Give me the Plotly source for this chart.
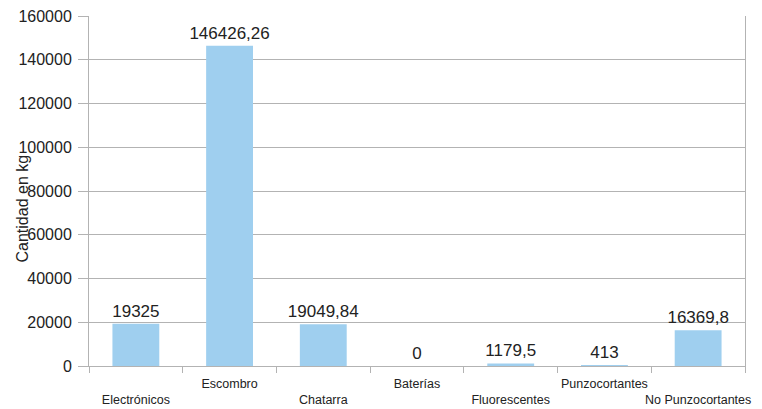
import plotly.graph_objects as go

categories = ["Electrónicos", "Escombro", "Chatarra", "Baterías", "Fluorescentes", "Punzocortantes", "No Punzocortantes"]
values = [19325, 146426.26, 19049.84, 0, 1179.5, 413, 16369.8]
y_ticks = [0, 20000, 40000, 60000, 80000, 100000, 120000, 140000, 160000]
y_title = "Cantidad en kg"

def fmt(v):
    s = ("%.2f" % v).rstrip("0").rstrip(".")
    return s.replace(".", ",")

labels = [fmt(v) for v in values]
# staggered category labels: even index on lower row, odd on upper row
tick_text = [("<br>" + c) if i % 2 == 0 else (c + "<br> ") for i, c in enumerate(categories)]

fig = go.Figure(go.Bar(
    x=categories, y=values, width=0.5,
    marker=dict(color="#9fcfef", line=dict(width=0)),
    text=labels, textposition="outside", cliponaxis=False, constraintext="none",
    textfont=dict(family="Liberation Sans, Arial, sans-serif", size=17, color="#222222"),
))

fig.update_layout(
    width=762, height=409,
    margin=dict(l=81, r=25, t=8, b=51),
    paper_bgcolor="white", plot_bgcolor="white",
    showlegend=False,
    font=dict(family="Liberation Sans, Arial, sans-serif", color="#222222"),
    xaxis=dict(
        type="category", tickmode="array", tickvals=categories, ticktext=tick_text,
        ticks="outside", tickson="boundaries", ticklen=6, tickcolor="#b3b3b3",
        showline=True, linecolor="#b3b3b3", linewidth=1, showgrid=False,
        tickfont=dict(size=12.5, color="#222222"), tickangle=0, automargin=False,
        ticklabelstandoff=6, ticklabeloverflow="allow",
    ),
    yaxis=dict(
        range=[0, 160000], tickvals=y_ticks, ticks="outside", ticklen=10, tickcolor="#b3b3b3",
        showline=True, linecolor="#b3b3b3", mirror=True, linewidth=1,
        showgrid=True, gridcolor="#b3b3b3", gridwidth=1, zeroline=False,
        tickfont=dict(size=16, color="#222222"), tickformat="d", automargin=False,
        ticklabelstandoff=3, ticklabeloverflow="allow",
    ),
    annotations=[dict(
        text=y_title, textangle=-90, xref="paper", yref="paper",
        x=0, xshift=-67, y=0.45, xanchor="center", yanchor="middle", showarrow=False,
        font=dict(size=16, color="#222222"),
    )],
)

fig.write_html("out.html")
